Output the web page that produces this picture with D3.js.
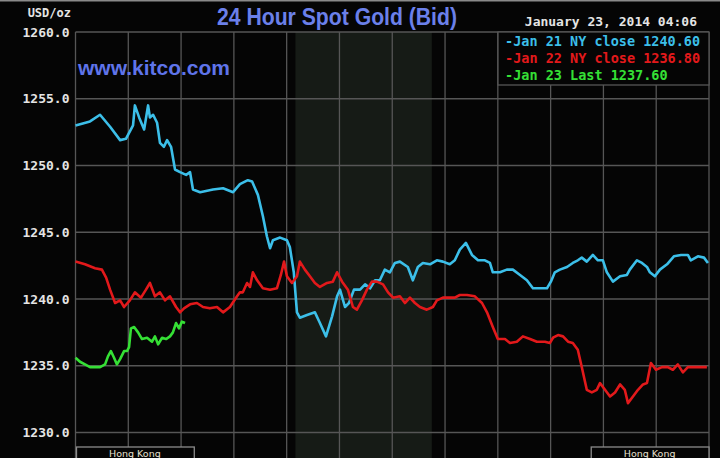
<!DOCTYPE html>
<html>
<head>
<meta charset="utf-8">
<script src="https://cdn.jsdelivr.net/npm/d3@7"></script>
<style>
  html, body { margin: 0; padding: 0; background: #050505; }
  #chart { width: 720px; height: 458px; }
</style>
</head>
<body>
<div id="chart"></div>
<script>

// chart data: [hour since start, price]
var jan21Series = [
    [0.00,1253.0],[0.55,1253.3],[0.93,1253.8],[1.31,1252.9],[1.69,1251.9],[1.91,1252.0],
    [2.18,1253.0],[2.25,1254.5],[2.41,1253.6],[2.60,1252.7],[2.75,1254.5],[2.82,1253.6],
    [2.94,1253.8],[3.09,1253.2],[3.20,1251.7],[3.35,1251.4],[3.47,1251.9],[3.62,1251.4],
    [3.77,1249.7],[3.96,1249.5],[4.19,1249.3],[4.34,1249.5],[4.45,1248.2],[4.72,1248.0],
    [5.21,1248.2],[5.59,1248.3],[5.97,1248.0],[6.23,1248.6],[6.53,1248.9],[6.69,1248.8],
    [6.91,1247.8],[7.10,1246.2],[7.25,1244.7],[7.37,1243.8],[7.48,1244.4],[7.75,1244.6],
    [8.01,1244.4],[8.12,1243.9],[8.27,1242.0],[8.39,1239.0],[8.50,1238.6],[8.77,1238.8],
    [9.07,1239.0],[9.26,1238.2],[9.49,1237.2],[9.72,1238.7],[9.91,1240.2],[10.02,1240.7],
    [10.21,1239.4],[10.36,1239.7],[10.55,1240.7],[10.78,1240.7],[10.97,1241.1],[11.16,1240.8],
    [11.35,1241.4],[11.53,1241.4],[11.72,1242.2],[11.91,1242.0],[12.10,1242.7],[12.29,1242.8],
    [12.59,1242.4],[12.78,1241.4],[12.97,1242.4],[13.16,1242.7],[13.43,1242.6],[13.69,1242.9],
    [13.92,1242.8],[14.18,1242.6],[14.37,1242.9],[14.56,1243.7],[14.79,1244.2],[15.02,1243.3],
    [15.25,1242.9],[15.51,1242.9],[15.70,1242.7],[15.81,1242.0],[16.08,1242.0],[16.34,1242.2],
    [16.57,1242.2],[16.84,1241.8],[17.10,1241.4],[17.33,1240.8],[17.59,1240.8],[17.86,1240.8],
    [18.01,1241.3],[18.16,1242.0],[18.35,1242.2],[18.62,1242.4],[18.84,1242.7],[19.03,1242.9],
    [19.18,1243.1],[19.37,1242.8],[19.60,1243.3],[19.79,1242.9],[19.98,1242.9],[20.13,1242.0],
    [20.36,1241.3],[20.63,1241.7],[20.89,1241.8],[21.00,1242.2],[21.27,1242.9],[21.46,1242.7],
    [21.65,1242.4],[21.76,1242.0],[21.95,1241.7],[22.14,1242.2],[22.41,1242.6],[22.67,1243.2],
    [22.94,1243.3],[23.20,1243.3],[23.31,1242.9],[23.58,1243.2],[23.81,1243.1],[23.96,1242.7]
];

var jan22Series = [
    [0.00,1242.8],[0.36,1242.6],[0.74,1242.3],[1.00,1242.2],[1.16,1241.6],[1.31,1240.7],
    [1.50,1239.7],[1.69,1239.9],[1.84,1239.4],[2.06,1239.9],[2.25,1240.5],[2.48,1240.1],
    [2.67,1240.7],[2.82,1241.2],[3.01,1240.2],[3.20,1240.5],[3.39,1239.9],[3.58,1240.2],
    [3.81,1239.4],[3.96,1239.0],[4.11,1239.3],[4.34,1239.6],[4.60,1239.7],[4.83,1239.4],
    [5.09,1239.3],[5.36,1239.4],[5.59,1239.0],[5.85,1239.4],[6.12,1240.2],[6.23,1240.5],
    [6.34,1240.5],[6.50,1241.2],[6.61,1240.9],[6.72,1242.0],[6.88,1241.4],[7.10,1240.8],
    [7.37,1240.7],[7.63,1240.8],[7.78,1241.8],[7.90,1242.8],[8.01,1241.7],[8.20,1241.2],
    [8.39,1241.7],[8.50,1242.8],[8.69,1242.2],[8.88,1241.7],[9.07,1241.2],[9.26,1240.9],
    [9.53,1241.2],[9.75,1241.3],[9.91,1242.0],[10.10,1241.3],[10.32,1240.7],[10.51,1239.4],
    [10.66,1239.2],[10.85,1239.9],[11.04,1240.7],[11.23,1241.3],[11.42,1241.3],[11.65,1241.1],
    [11.84,1240.5],[12.03,1240.1],[12.29,1240.2],[12.48,1239.7],[12.67,1240.1],[12.86,1239.7],
    [13.05,1239.4],[13.31,1239.2],[13.54,1239.4],[13.69,1239.9],[13.92,1240.1],[14.18,1240.1],
    [14.37,1240.1],[14.56,1240.3],[14.83,1240.3],[15.13,1240.2],[15.40,1239.7],[15.59,1239.0],
    [15.81,1237.9],[16.00,1237.0],[16.27,1237.0],[16.46,1236.7],[16.72,1236.8],[16.95,1237.2],
    [17.22,1237.0],[17.48,1236.8],[17.78,1236.8],[17.97,1236.7],[18.09,1237.1],[18.28,1237.3],
    [18.47,1237.2],[18.66,1236.8],[18.84,1236.7],[19.03,1236.2],[19.18,1234.9],[19.37,1233.2],
    [19.56,1233.0],[19.75,1233.2],[19.87,1233.7],[20.06,1233.2],[20.25,1232.7],[20.44,1233.0],
    [20.63,1233.6],[20.81,1233.2],[20.93,1232.2],[21.12,1232.7],[21.31,1233.2],[21.50,1233.6],
    [21.65,1233.7],[21.80,1235.2],[21.99,1234.7],[22.22,1234.9],[22.44,1234.9],[22.63,1234.7],
    [22.82,1235.1],[23.01,1234.5],[23.20,1234.9],[23.39,1234.9],[23.66,1234.9],[23.92,1234.9]
];

var jan23Series = [
    [0.00,1235.6],[0.17,1235.3],[0.36,1235.1],[0.55,1234.9],[0.74,1234.9],[0.93,1234.9],
    [1.12,1235.1],[1.23,1235.7],[1.34,1236.1],[1.46,1235.6],[1.57,1235.1],[1.69,1235.5],
    [1.84,1236.1],[1.95,1236.1],[2.03,1236.4],[2.10,1237.8],[2.22,1237.9],[2.37,1237.5],
    [2.52,1237.0],[2.71,1237.1],[2.90,1236.8],[3.01,1237.2],[3.13,1236.6],[3.28,1237.1],
    [3.43,1237.0],[3.58,1237.2],[3.69,1237.5],[3.81,1238.2],[3.92,1237.8],[4.03,1238.3],
    [4.15,1238.2]
];

var priceTicks = [1230, 1235, 1240, 1245, 1250, 1255, 1260];
var hourTicks = [0, 2, 4, 6, 8, 10, 12, 14, 16, 18, 20, 22, 24];
var tradingHours = [8.33, 13.5];
var legendLabels = ["-Jan 21 NY close 1240.60", "-Jan 22 NY close 1236.80", "-Jan 23 Last 1237.60"];
var seriesColors = ["#3cbfe9", "#e2191b", "#35e035"];
var sessionLabels = [["Hong Kong", 0, 4.5], ["Hong Kong", 19.5, 24]];

/**
 * Constructor for the gold chart
 */
function GoldChart(series){
    var self = this;
    self.series = series;
    self.init();
    self.drawGrid();
    self.drawLines();
    self.drawText();
}

/**
 * Sets up the svg and the scales
 */
GoldChart.prototype.init = function(){
    var self = this;
    self.width = 720;
    self.height = 458;
    self.gridColor = "#565656";

    self.svg = d3.select("#chart").append("svg")
        .attr("width", self.width)
        .attr("height", self.height);

    self.svg.append("rect")
        .attr("width", self.width)
        .attr("height", self.height)
        .attr("fill", "#050505");

    // thin light strip on the very top edge
    self.svg.append("rect")
        .attr("width", self.width)
        .attr("height", 1.5)
        .attr("fill", "#8a8a8a");

    self.x = d3.scaleLinear().domain([0, 24]).range([75.5, 709]);
    self.y = d3.scaleLinear().domain([1230, 1260]).range([432.5, 32]);
};

/**
 * Draws the shaded session, the grid and the session boxes
 */
GoldChart.prototype.drawGrid = function(){
    var self = this;
    var x = self.x, y = self.y;

    //shaded NY trading hours
    self.svg.append("rect")
        .attr("x", x(tradingHours[0]))
        .attr("y", y(1260))
        .attr("width", x(tradingHours[1]) - x(tradingHours[0]))
        .attr("height", self.height - y(1260))
        .attr("fill", "#161b16");

    var grid = self.svg.append("g").attr("class", "grid");

    grid.selectAll(".vline")
        .data(hourTicks)
        .enter().append("line")
        .attr("x1", function(d){ return x(d); })
        .attr("x2", function(d){ return x(d); })
        .attr("y1", y(1260))
        .attr("y2", self.height)
        .attr("stroke", self.gridColor)
        .attr("stroke-width", 1.3);

    grid.selectAll(".hline")
        .data(priceTicks)
        .enter().append("line")
        .attr("x1", x(0))
        .attr("x2", x(24))
        .attr("y1", function(d){ return y(d); })
        .attr("y2", function(d){ return y(d); })
        .attr("stroke", self.gridColor)
        .attr("stroke-width", 1.3);

    //price labels on the left
    var yAxis = d3.axisLeft(y)
        .tickValues(priceTicks)
        .tickFormat(d3.format(".1f"))
        .tickSize(0)
        .tickPadding(6);

    var axisG = self.svg.append("g")
        .attr("transform", "translate(" + x(0) + ",0)")
        .call(yAxis);
    axisG.select(".domain").remove();
    axisG.selectAll("text")
        .attr("fill", "#e4e4e4")
        .style("font-family", "DejaVu Sans Mono")
        .style("font-weight", "bold")
        .style("font-size", "13px");

    //session boxes at the bottom
    var sessions = self.svg.selectAll(".session")
        .data(sessionLabels)
        .enter().append("g");

    sessions.append("rect")
        .attr("x", function(d){ return x(d[1]) + 1; })
        .attr("y", 447)
        .attr("width", function(d){ return x(d[2]) - x(d[1]) - 1; })
        .attr("height", 20)
        .attr("fill", "#050505")
        .attr("stroke", "#8c8c8c")
        .attr("stroke-width", 1.3);

    sessions.append("text")
        .attr("x", function(d){ return (x(d[1]) + x(d[2])) / 2; })
        .attr("y", 457)
        .attr("text-anchor", "middle")
        .attr("fill", "#e8e0d0")
        .style("font-family", "DejaVu Sans")
        .style("font-size", "9.5px")
        .text(function(d){ return d[0]; });
};

/**
 * Draws the three day lines
 */
GoldChart.prototype.drawLines = function(){
    var self = this;

    var line = d3.line()
        .x(function(d){ return self.x(d[0]); })
        .y(function(d){ return self.y(d[1]); });

    self.svg.selectAll(".dayline")
        .data(self.series)
        .enter().append("path")
        .attr("class", "dayline")
        .attr("d", line)
        .attr("fill", "none")
        .attr("stroke", function(d, i){ return seriesColors[i]; })
        .attr("stroke-width", 2.6)
        .attr("stroke-linejoin", "round");
};

/**
 * Title, watermark, timestamp and legend
 */
GoldChart.prototype.drawText = function(){
    var self = this;

    self.svg.append("text")
        .attr("x", 217)
        .attr("y", 25)
        .attr("textLength", 240)
        .attr("lengthAdjust", "spacingAndGlyphs")
        .attr("fill", "#6b80ea")
        .style("font-family", "Liberation Sans")
        .style("font-weight", "bold")
        .style("font-size", "23px")
        .text("24 Hour Spot Gold (Bid)");

    self.svg.append("text")
        .attr("x", 78)
        .attr("y", 75)
        .attr("textLength", 152)
        .attr("lengthAdjust", "spacingAndGlyphs")
        .attr("fill", "#5f74ea")
        .style("font-family", "Liberation Sans")
        .style("font-weight", "bold")
        .style("font-size", "21px")
        .text("www.kitco.com");

    self.svg.append("text")
        .attr("x", 71)
        .attr("y", 17)
        .attr("text-anchor", "end")
        .attr("fill", "#e4e4e4")
        .style("font-family", "DejaVu Sans Mono")
        .style("font-weight", "bold")
        .style("font-size", "12px")
        .text("USD/oz");

    self.svg.append("text")
        .attr("x", 697)
        .attr("y", 26)
        .attr("text-anchor", "end")
        .attr("fill", "#e4e4e4")
        .style("font-family", "DejaVu Sans Mono")
        .style("font-weight", "bold")
        .style("font-size", "13px")
        .text("January 23, 2014 04:06");

    //legend box
    self.svg.append("rect")
        .attr("x", 498)
        .attr("y", 32)
        .attr("width", 211)
        .attr("height", 53)
        .attr("fill", "#050505")
        .attr("stroke", self.gridColor)
        .attr("stroke-width", 1.3);

    self.svg.selectAll(".legend")
        .data(legendLabels)
        .enter().append("text")
        .attr("x", 505)
        .attr("y", function(d, i){ return 46 + i * 17; })
        .attr("fill", function(d, i){ return seriesColors[i]; })
        .style("font-family", "DejaVu Sans Mono")
        .style("font-weight", "bold")
        .style("font-size", "13.5px")
        .text(function(d){ return d; });
};

var chart = new GoldChart([jan21Series, jan22Series, jan23Series]);

</script>
</body>
</html>
